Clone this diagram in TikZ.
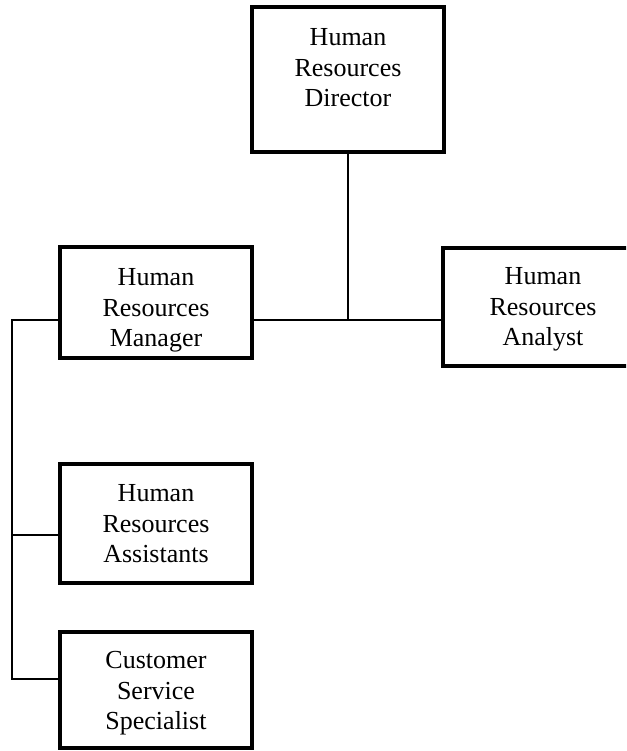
\documentclass[tikz,border=0pt]{standalone}
\usepackage{fontspec}
\setmainfont{Liberation Serif}
\begin{document}
\begin{tikzpicture}[x=0.75pt,y=-0.75pt,
  box/.style={draw=black,line width=3pt,inner sep=0pt,rectangle},
  lbl/.style={align=center,inner sep=0pt,font=\fontsize{19.5pt}{23pt}\selectfont},
  link/.style={draw=black,line width=1.5pt}]
\useasboundingbox (0,0) rectangle (626,751);
\begin{scope}
\clip (0,0) rectangle (626,751);
% boxes
\node[box,minimum width=144pt,minimum height=108.75pt] (dir) at (348,79.5) {};
\node[box,minimum width=144pt,minimum height=83.25pt] (mgr) at (156,302.5) {};
\node[box,minimum width=155.25pt,minimum height=88.5pt] (ana) at (546.5,307) {};
\node[box,minimum width=144pt,minimum height=89.25pt] (ast) at (156,523.5) {};
\node[box,minimum width=144pt,minimum height=87pt] (css) at (156,690) {};
% labels
\node[lbl] (dirT) at (348,70) {\strut Human\\Resources\\Director\strut};
\node[lbl] (mgrT) at (156,310) {\strut Human\\Resources\\Manager\strut};
\node[lbl] (anaT) at (543,309) {\strut Human\\Resources\\Analyst\strut};
\node[lbl] (astT) at (156,526) {\strut Human\\Resources\\Assistants\strut};
\node[lbl] (cssT) at (156,693) {\strut Customer\\Service\\Specialist\strut};
% connectors
\coordinate (j) at (348,320);
\coordinate (s1) at (12,320);
\coordinate (s2) at (12,535);
\coordinate (s3) at (12,679);
\draw[link] (dir.south) -- (j);
\draw[link] (mgr.east |- j) -- (ana.west |- j);
\draw[link,line join=miter] (mgr.west |- s1) -- (s1) -- (s3) -- (css.west |- s3);
\draw[link] (s2) -- (ast.west |- s2);
\end{scope}
\end{tikzpicture}
\end{document}
